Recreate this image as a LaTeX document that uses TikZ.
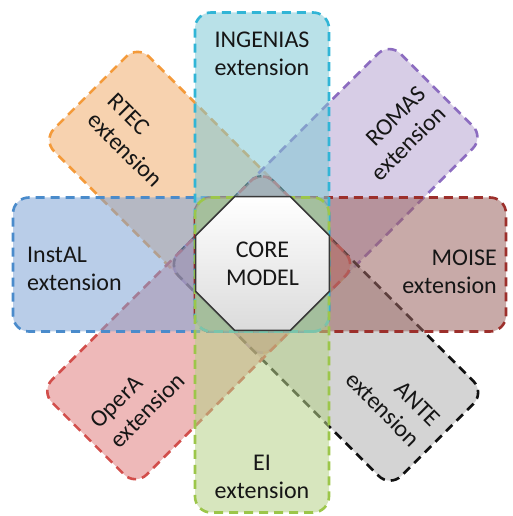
\documentclass[tikz,border=0pt]{standalone}
\usepackage{fontspec}
\setmainfont{Carlito}
\usetikzlibrary{shapes.geometric}

% fills (used translucent) and dashed border colours of the eight extensions
\definecolor{ingFill}{HTML}{80C8D5}\definecolor{ingLine}{HTML}{31B5D6}
\definecolor{romFill}{HTML}{B6A4D1}\definecolor{romLine}{HTML}{8C6CC0}
\definecolor{moiFill}{HTML}{9B6460}\definecolor{moiLine}{HTML}{9C2F2B}
\definecolor{antFill}{HTML}{B0B0B0}\definecolor{antLine}{HTML}{111111}
\definecolor{eiFill}{HTML}{B6D189}\definecolor{eiLine}{HTML}{9CC64A}
\definecolor{opeFill}{HTML}{E07F7F}\definecolor{opeLine}{HTML}{D24E4B}
\definecolor{insFill}{HTML}{7FA4D5}\definecolor{insLine}{HTML}{4A8BCB}
\definecolor{rteFill}{HTML}{F0AD6D}\definecolor{rteLine}{HTML}{F49A3A}
\definecolor{labelInk}{HTML}{161616}

\tikzset{
  armbox/.style={line width=2.6pt, dash pattern=on 9pt off 6pt,
    rounded corners=16pt, fill opacity=0.55},
  armlabel/.style={font=\fontsize{24}{28}\selectfont, text=labelInk,
    inner sep=0pt},
}

% one arm: rotation angle, outer length, fill colour, border colour
\newcommand\drawarm[4]{%
  \begin{scope}[shift={(262,251.5)}, rotate=#1]
    \draw[armbox, fill=#3, draw=#4] (-67,-67) rectangle (#2,67);
  \end{scope}}

\begin{document}
\begin{tikzpicture}[x=1pt, y=1pt]
  \useasboundingbox (0,0) rectangle (512,516);

  % diagonal arms
  \drawarm{135}{243}{rteFill}{rteLine}
  \drawarm{45}{247}{romFill}{romLine}
  \drawarm{315}{248}{antFill}{antLine}
  \drawarm{225}{246}{opeFill}{opeLine}
  % horizontal and vertical arms
  \drawarm{180}{249}{insFill}{insLine}
  \drawarm{0}{244}{moiFill}{moiLine}
  \drawarm{90}{252}{ingFill}{ingLine}
  \drawarm{270}{248}{eiFill}{eiLine}

  % arm labels
  \node[armlabel, align=center] (ingenias) at (262,462) {INGENIAS\\extension};
  \node[armlabel, align=center] (ei) at (262,39) {EI\\extension};
  \node[armlabel, align=left, anchor=west] (instal) at (27,247.4) {InstAL\\extension};
  \node[armlabel, align=right, anchor=east] (moise) at (497,244.4) {MOISE\\extension};
  \node[armlabel, align=left, rotate=-45] (rtec) at (135,376) {RTEC\\extension};
  \node[armlabel, align=right, rotate=45] (romas) at (398.5,382.6) {ROMAS\\extension};
  \node[armlabel, align=left, rotate=45] (opera) at (137.5,115.5) {OperA\\extension};
  \node[armlabel, align=right, rotate=-45] (ante) at (392.7,116.7) {ANTE\\extension};

  % central octagon
  \node[regular polygon, regular polygon sides=8, minimum size=145pt,
        inner sep=0pt, draw=black!78, line width=1.5pt,
        top color=white, bottom color=black!14,
        armlabel, align=center] (core) at (262.5,252.5) {CORE\\MODEL};
\end{tikzpicture}
\end{document}
